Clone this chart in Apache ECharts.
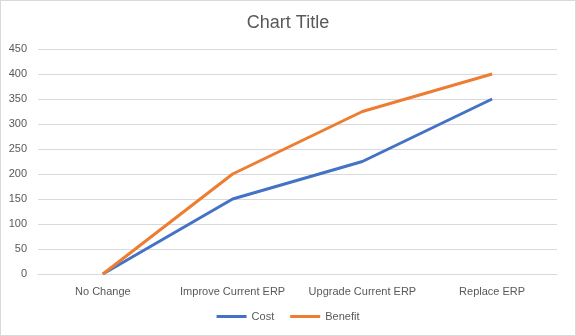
<!DOCTYPE html>
<html><head><meta charset="utf-8">
<script src="https://cdn.jsdelivr.net/npm/echarts@6/dist/echarts.min.js"></script>
<style>html,body{margin:0;padding:0;background:#fff}#c{width:576px;height:336px;box-sizing:border-box;border:1px solid #d9d9d9}</style>
</head><body><div id="c"></div>
<script>
const categories = ["No Change", "Improve Current ERP", "Upgrade Current ERP", "Replace ERP"];
const costValues = [0, 150, 225, 350];
const benefitValues = [0, 200, 325, 400];
const chart = echarts.init(document.getElementById('c'));
const font = "Liberation Sans, Arial, sans-serif";
chart.setOption({
  animation: false,
  title: {text: "Chart Title", left: 'center', top: 8, textStyle: {fontFamily: font, fontSize: 18, fontWeight: 'normal', color: '#595959'}},
  grid: {left: 37, right: 18, top: 48, bottom: 61},
  xAxis: {type: 'category', data: categories, boundaryGap: true,
    axisLine: {lineStyle: {color: '#d9d9d9'}}, axisTick: {show: false},
    axisLabel: {interval: 0, fontFamily: font, fontSize: 11, color: '#595959', margin: 12}},
  yAxis: {type: 'value', min: 0, max: 450, interval: 50,
    axisLine: {show: false}, axisTick: {show: false},
    splitLine: {lineStyle: {color: '#d9d9d9'}},
    axisLabel: {fontFamily: font, fontSize: 11, color: '#595959', margin: 11}},
  legend: {bottom: 8, left: 'center', itemWidth: 30, itemHeight: 3, itemGap: 16,
    icon: 'rect',
    textStyle: {fontFamily: font, fontSize: 11, color: '#595959'},
    data: ['Cost', 'Benefit']},
  series: [
    {name: 'Cost', type: 'line', data: costValues, symbol: 'none', lineStyle: {width: 3, color: '#4472C4'}, itemStyle: {color: '#4472C4'}},
    {name: 'Benefit', type: 'line', data: benefitValues, symbol: 'none', lineStyle: {width: 3, color: '#ED7D31'}, itemStyle: {color: '#ED7D31'}}
  ]
});
</script></body></html>
